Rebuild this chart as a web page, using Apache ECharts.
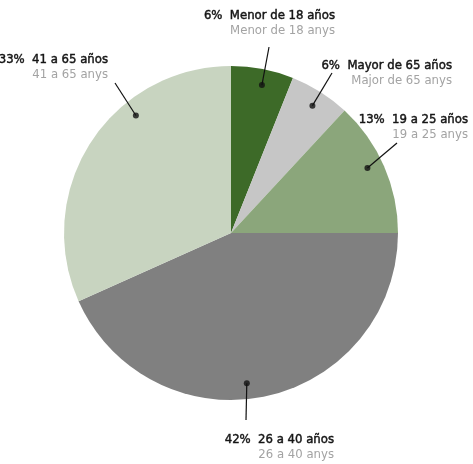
<!DOCTYPE html>
<html>
<head>
<meta charset="utf-8">
<script src="https://cdn.jsdelivr.net/npm/echarts@6/dist/echarts.min.js"></script>
<style>
  html, body { margin: 0; padding: 0; background: #fff; }
  #chart { width: 473px; height: 464px; }
</style>
</head>
<body>
<div id="chart"></div>
<script>
// age groups, clockwise from 12 o'clock
const categories = ['Menor de 18 años', 'Mayor de 65 años', '19 a 25 años', '26 a 40 años', '41 a 65 años'];
const catalanNames = ['Menor de 18 anys', 'Major de 65 anys', '19 a 25 anys', '26 a 40 anys', '41 a 65 anys'];
const shares = [6.05, 5.85, 13.1, 43.3, 31.7];
const shareLabels = ['6%', '6%', '13%', '42%', '33%'];
const sliceColors = ['#3d6a28', '#c6c6c6', '#8ba67b', '#808080', '#c8d4c0'];

// anchor dots of the leader lines (angle clockwise from top, radius as share of pie radius)
const dotAngles = [11.8, 32.6, 64.5, 174, 321];
const dotRadius = 0.905;

const CX = 231, CY = 233, R = 167;
const FONT = '"Liberation Sans Narrow", "DejaVu Sans Condensed", sans-serif';

// where each label box sits (right edge, top) and where its line ends
const labelSpots = [[335, 8], [452, 58], [468, 112], [334, 432], [108, 52]];
const lineEnds = [[269, 47], [332, 73], [397, 143], [246, 420], [115, 83]];

const chart = echarts.init(document.getElementById('chart'));

function dotPoint(i) {
  const a = dotAngles[i] * Math.PI / 180;
  return [CX + R * dotRadius * Math.sin(a), CY - R * dotRadius * Math.cos(a)];
}

chart.setOption({
  animation: false,
  polar: { center: [CX, CY], radius: R },
  angleAxis: { type: 'value', min: 0, max: 360, startAngle: 90, clockwise: true, show: false },
  radiusAxis: { type: 'value', min: 0, max: 1, show: false },
  series: [
    {
      type: 'pie',
      center: [CX, CY],
      radius: [0, R],
      startAngle: 90,
      clockwise: true,
      silent: true,
      label: { show: false },
      labelLine: { show: false },
      data: categories.map((name, i) => ({
        name,
        value: shares[i],
        itemStyle: { color: sliceColors[i] },
      })),
    },
    {
      // transparent copy on top, carries the labels and leader lines
      type: 'pie',
      z: 4,
      center: [CX, CY],
      radius: [0, R],
      startAngle: 90,
      clockwise: true,
      silent: true,
      itemStyle: { color: 'rgba(0,0,0,0)' },
      data: categories.map((name, i) => ({ name, value: shares[i] })),
      label: {
        show: true,
        position: 'outside',
        overflow: 'none',
        formatter: p => `{a|${shareLabels[p.dataIndex]}  ${categories[p.dataIndex]}}\n{b|${catalanNames[p.dataIndex]}}`,
        rich: {
          a: {
            fontFamily: FONT, fontSize: 13, color: '#151515', lineHeight: 15,
            textBorderColor: '#151515', textBorderWidth: 0.45,
          },
          b: { fontFamily: FONT, fontSize: 13, color: '#a3a3a3', lineHeight: 15 },
        },
      },
      labelLine: { show: true, lineStyle: { color: '#111', width: 1.2 } },
      labelLayout: params => {
        const i = params.dataIndex;
        const d = dotPoint(i);
        const e = lineEnds[i];
        return {
          x: labelSpots[i][0],
          y: labelSpots[i][1],
          align: 'right',
          verticalAlign: 'top',
          labelLinePoints: [d, e, e],
        };
      },
    },
    {
      type: 'scatter',
      coordinateSystem: 'polar',
      silent: true,
      z: 5,
      symbol: 'circle',
      symbolSize: 6,
      itemStyle: { color: '#111' },
      data: dotAngles.map(a => [dotRadius, a]),
    },
  ],
});

window.addEventListener('resize', () => chart.resize());
</script>
</body>
</html>
